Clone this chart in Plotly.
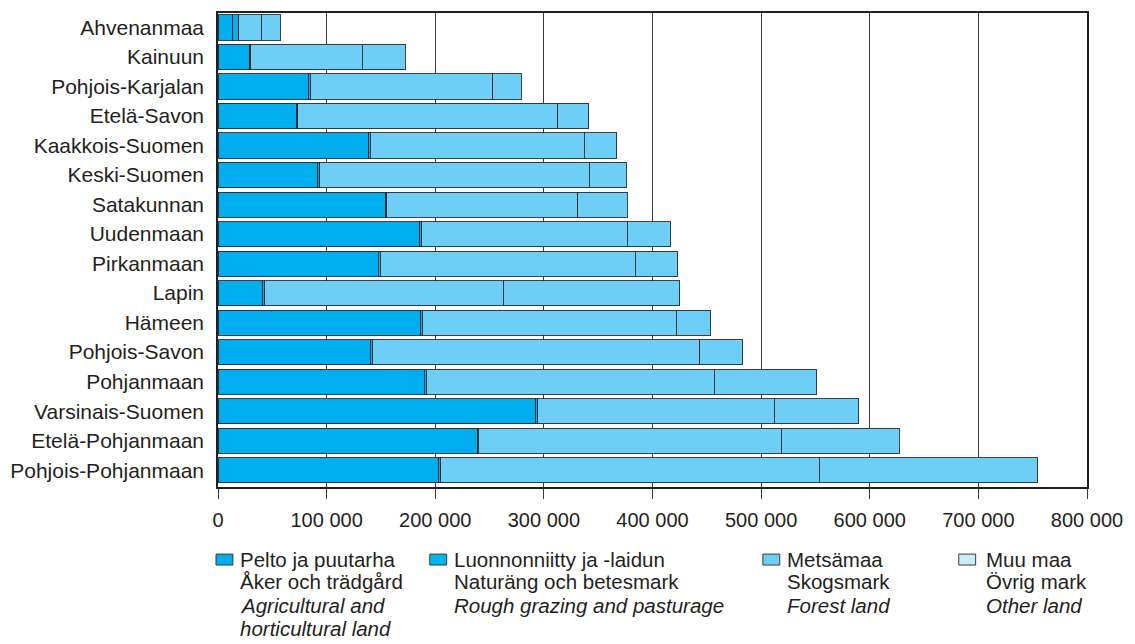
import plotly.graph_objects as go

# ── data (hectares), top row first ───────────────────────────
REGIONS = [
    "Ahvenanmaa", "Kainuun", "Pohjois-Karjalan", "Etelä-Savon",
    "Kaakkois-Suomen", "Keski-Suomen", "Satakunnan", "Uudenmaan",
    "Pirkanmaan", "Lapin", "Hämeen", "Pohjois-Savon", "Pohjanmaan",
    "Varsinais-Suomen", "Etelä-Pohjanmaan", "Pohjois-Pohjanmaan",
]
PELTO = [13700, 29000, 83500, 72000, 139000, 92000, 154000, 185500,
         147500, 41000, 186500, 140500, 190000, 292000, 239000, 203000]
LUONNON = [5500, 1000, 1500, 1500, 1000, 1500, 1500, 2000,
           2000, 1500, 1500, 1500, 1500, 2500, 800, 2000]
METSA = [20500, 103000, 168000, 239300, 197000, 248300, 175900, 189100,
         234500, 220000, 233700, 301400, 265500, 217800, 278700, 348500]
MUU = [17700, 39600, 26000, 28700, 29900, 34200, 45200, 40000,
       39400, 162700, 31900, 39600, 94000, 77600, 108500, 201000]

X_TICKS = [0, 100000, 200000, 300000, 400000, 500000, 600000, 700000, 800000]

LEGEND_FI = ["Pelto ja puutarha", "Luonnonniitty ja -laidun", "Metsämaa", "Muu maa"]
LEGEND_SV = ["Åker och trädgård", "Naturäng och betesmark", "Skogsmark", "Övrig mark"]
LEGEND_EN = [["Agricultural and", "horticultural land"],
             ["Rough grazing and pasturage"], ["Forest land"], ["Other land"]]

# ── styling ──────────────────────────────────────────────────
BAR_COLORS = ["#00AEEF", "#00B2EF", "#6DCFF6", "#6DCFF6"]
SWATCH_COLORS = ["#00AEEF", "#00B6F0", "#6DCFF6", "#C9EBFA"]
INK = "#231F20"
FONT = "Liberation Sans, Arial, sans-serif"

OFF = 8                       # page body margin of the html page
W, H = 1135 - OFF, 644 - OFF
L, R, T, B = 213, 1087, 10.7, 487.5   # plot box in screen pixels


def px_x(px):
    return (px - L) / (R - L)


def px_y(py):
    return (B - py) / (B - T)


fig = go.Figure()
for name, vals, col in zip(LEGEND_FI, [PELTO, LUONNON, METSA, MUU], BAR_COLORS):
    fig.add_bar(
        y=REGIONS, x=vals, orientation="h", name=name, width=0.85,
        marker=dict(color=col, line=dict(color="rgba(35,31,32,0.85)", width=1)),
        showlegend=False,
    )

# hand-made legend (swatch + up to four text lines per entry)
SWATCH_X = [211, 426, 761, 958]
TEXT_X = [233, 448, 783, 983]
LINE_Y = [560, 583, 606.5, 630]
for i in range(4):
    fig.add_shape(
        type="rect", xref="paper", yref="paper",
        x0=px_x(SWATCH_X[i]), x1=px_x(SWATCH_X[i] + 17),
        y0=px_y(566), y1=px_y(555),
        fillcolor=SWATCH_COLORS[i], line=dict(color="#3a3a3a", width=1),
    )
    lines = [LEGEND_FI[i], LEGEND_SV[i]] + [f"<i>{t}</i>" for t in LEGEND_EN[i]]
    for j, txt in enumerate(lines):
        fig.add_annotation(
            xref="paper", yref="paper", x=px_x(TEXT_X[i]), y=px_y(LINE_Y[j]),
            text=txt, showarrow=False, xanchor="left", yanchor="middle",
            font=dict(family=FONT, size=20.5, color=INK),
        )

fig.update_layout(
    width=W, height=H,
    margin=dict(l=L - OFF, r=W + OFF - R, t=T - OFF, b=H + OFF - B, pad=0),
    barmode="stack", bargap=0.15,
    plot_bgcolor="white", paper_bgcolor="white",
    separators=", ",
    font=dict(family=FONT, size=20, color=INK),
    xaxis=dict(
        range=[0, 800000], tickvals=X_TICKS, tickformat=",d",
        showgrid=True, gridcolor="#3a3a3a", gridwidth=1,
        showline=True, linecolor=INK, linewidth=2, mirror=True,
        ticks="outside", ticklen=10, tickcolor="#3a3a3a",
        ticklabelstandoff=4, zeroline=False,
        tickfont=dict(family=FONT, size=20, color=INK),
    ),
    yaxis=dict(
        autorange=False, range=[15.57, -0.49],
        showline=True, linecolor=INK, linewidth=1.5, mirror=True,
        ticks="", ticklabelstandoff=8, showgrid=False,
        tickfont=dict(family=FONT, size=21, color=INK),
    ),
)

fig.write_html("out.html")
